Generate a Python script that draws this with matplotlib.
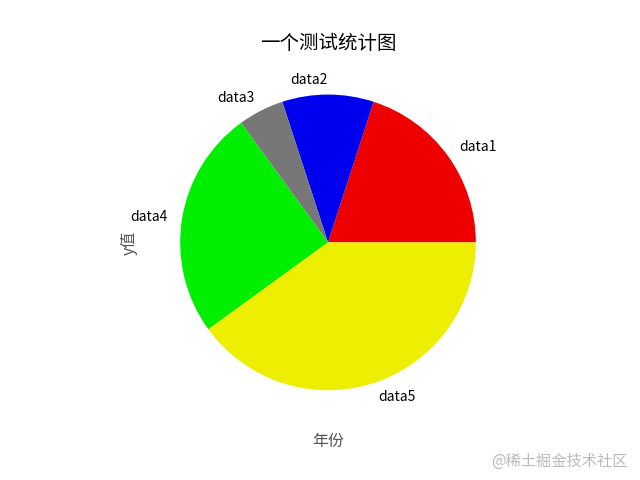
import matplotlib
matplotlib.use('Agg')
import matplotlib.pyplot as plt

plt.rcParams['font.family'] = ['Noto Sans CJK SC', 'DejaVu Sans']

# 数据
labels = ['data1', 'data2', 'data3', 'data4', 'data5']
values = [20, 10, 5, 25, 40]
colors = ['#ee0000', '#0000ee', '#777777', '#00ee00', '#eeee00']

fig = plt.figure(figsize=(6.4, 4.8), dpi=100)
ax = fig.add_subplot(111)
ax.pie(values, labels=labels, colors=colors,
       textprops={'fontsize': 10, 'color': 'black'})
ax.set_title('一个测试统计图', fontsize=14)
ax.set_xlabel('年份', fontsize=11.5, color='#555555')
ax.set_ylabel('y值', fontsize=11.5, color='#555555')

fig.text(0.98, 0.04, '@稀土掘金技术社区', ha='right', va='center',
         fontsize=11, color='#bbbbbb')

fig.savefig('out.png', dpi=100)
